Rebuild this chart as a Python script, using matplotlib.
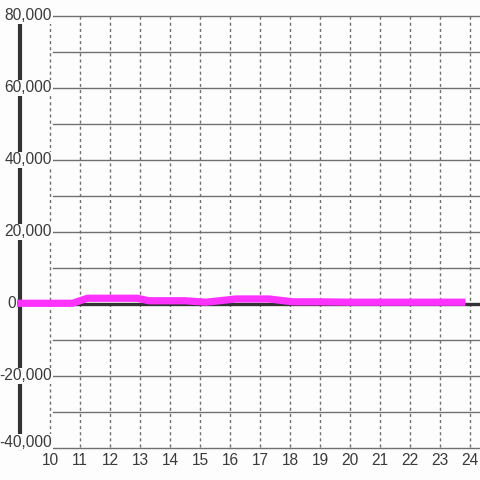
import matplotlib
matplotlib.use("Agg")
import matplotlib.pyplot as plt

# hours and values
hours = [8.9, 10.75, 11.25, 12.0, 12.9, 13.3, 14.0, 14.5, 15.2, 16.2, 17.3, 18.1, 19.0, 20.0, 21.0, 22.0, 23.0, 23.85]
values = [200, 200, 1600, 1600, 1600, 900, 900, 900, 500, 1400, 1400, 600, 600, 500, 500, 500, 500, 500]

x_ticks = list(range(10, 25))
y_ticks = [-40000, -20000, 0, 20000, 40000, 60000, 80000]
y_grid = list(range(-40000, 80001, 10000))

bg = "#fcfdfc"
text_color = "#3a3a3a"
plt.rcParams["font.family"] = ["Liberation Sans", "DejaVu Sans"]

fig = plt.figure(figsize=(4.8, 4.8), dpi=100, facecolor=bg)
ax = fig.add_axes([0, 0, 1, 1])
ax.set_facecolor(bg)
ax.set_xlim(8.3333, 24.3333)
ax.set_ylim(-48889, 84444)
ax.axis("off")

# pixel -> axes fraction helpers for the partial grid lines
def fx(px):
    return px / 480.0

def fy(py):
    return 1 - py / 480.0

for v in y_grid:
    ax.axhline(v, xmin=fx(53), xmax=1, color="#707070", lw=1.0, zorder=1)

for h in x_ticks:
    ax.axvline(h, ymin=fy(447), ymax=fy(16), color="#707070", lw=1.0,
               linestyle=(0, (2.2, 2.2)), zorder=1)

# zero line and left axis
ax.axhline(0, xmin=fx(20), xmax=1, color="#333333", lw=2.4, zorder=2)
ax.axvline(9.0, ymin=fy(448), ymax=fy(24), color="#333333", lw=3.0, zorder=2)

ax.plot(hours, values, color="#ff33ff", lw=5.2, solid_capstyle="butt",
        solid_joinstyle="round", zorder=3)

# tick labels (the zero label sits left of the axis line, the lowest one is nudged up)
for v in y_ticks:
    lx = 8.87 if v == 0 else 10.07
    ly = v + 1600 if v == y_ticks[0] else v
    ax.text(lx, ly, "{:,}".format(v), ha="right", va="center", fontsize=11.2,
            color=text_color, zorder=4,
            bbox=dict(facecolor=bg, edgecolor="none", pad=0.5))
for h in x_ticks:
    ax.text(h, -43600, str(h), ha="center", va="center",
            fontsize=11.2, color=text_color, zorder=4)

fig.savefig("out.png", dpi=100, facecolor=bg)
